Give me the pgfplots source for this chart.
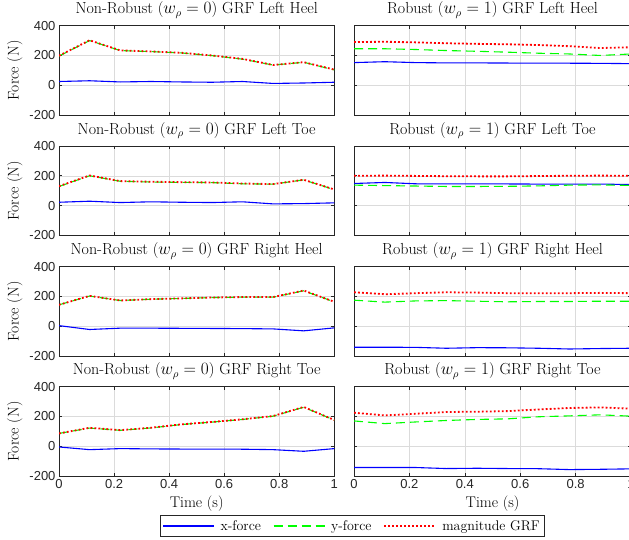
\documentclass[border=0pt]{standalone}
\usepackage{pgfplots}
\pgfplotsset{compat=1.18}
\usepackage{pgfplotstable}
\usepackage{fontspec}
\newfontfamily\hel{Liberation Sans}

\pgfplotstableread{
t x y m
0      25 196   198
0.1111 30 300   302
0.2222 22 233   234
0.3333 25 226   227
0.4444 22 217   218
0.5556 20 199   200
0.6667 25 175   177
0.7778 12 135.5 136
0.8889 15 154   155
1      20 103   105
}\nrLH
\pgfplotstableread{
t x y m
0      152 245 290
0.1111 158 245 292
0.2222 152 240 288
0.3333 150 233 282
0.4444 150 228 278
0.5556 149 222 275
0.6667 148 215 270
0.7778 148 210 262
0.8889 147 200 250
1      145 210 255
}\rLH
\pgfplotstableread{
t x y m
0      22 128   130
0.1111 29 200   202
0.2222 20 163   164
0.3333 25 158   160
0.4444 22 155.5 157
0.5556 20 154   155
0.6667 25 146   148
0.7778 11 143.6 144
0.8889 13 172.5 173
1      18 106.5 108
}\nrLT
\pgfplotstableread{
t x y m
0      148 137 200
0.1111 155 134 201
0.2222 146 131 199
0.3333 145 128 197
0.4444 145 128 196
0.5556 145 129 196
0.6667 144 132 198
0.7778 144 137 200
0.8889 144 139 201
1      141 135 200
}\rLT
\pgfplotstableread{
t x y m
0      4   144   144
0.1111 -22 203   204
0.2222 -13 172.5 173
0.3333 -13 181.5 182
0.4444 -14 186.5 187
0.5556 -15 192.4 193
0.6667 -16 195.3 196
0.7778 -18 195.2 196
0.8889 -31 238   240
1      -11 163.6 164
}\nrRH
\pgfplotstableread{
t x y m
0      -141 175 228
0.1111 -141 162 215
0.2222 -142 170 222
0.3333 -148 172 228
0.4444 -144 168 226
0.5556 -145 164 222
0.6667 -148 166 222
0.7778 -153 166 222
0.8889 -150 168 224
1      -148 168 222
}\rRH
\pgfplotstableread{
t x y m
0      -5  86    86
0.1111 -23 122   124
0.2222 -16 107   108
0.3333 -18 122.7 124
0.4444 -19 145.8 147
0.5556 -19 162   163
0.6667 -20 180   181
0.7778 -23 201.7 203
0.8889 -34 262   264
1      -16 175.3 176
}\nrRT
\pgfplotstableread{
t x y m
0      -143 170 225
0.1111 -143 152 207
0.2222 -143 163 218
0.3333 -150 173 230
0.4444 -148 180 232
0.5556 -150 184 236
0.6667 -151 198 247
0.7778 -157 204 257
0.8889 -155 211 261
1      -152 202 252
}\rRT

\definecolor{mgreen}{rgb}{0,1,0}
\definecolor{axgray}{rgb}{0.15,0.15,0.15}

\pgfplotsset{
  xf/.style={draw=blue, color=blue, line width=1.1pt, solid},
  yf/.style={draw=mgreen, color=mgreen, line width=1.1pt, dash pattern=on 9pt off 5pt},
  mg/.style={draw=red, color=red, line width=1.8pt, dash pattern=on 1.8pt off 2.2pt},
  myax/.style={
    scale only axis, height=89.3pt,
    xmin=0, xmax=1, ymin=-200, ymax=400,
    xtick={0,0.2,0.4,0.6,0.8,1}, ytick={-200,0,200,400},
    grid=major, major grid style={color=black!14, line width=0.5pt},
    axis line style={color=axgray, line width=0.7pt},
    tick style={color=axgray, line width=0.6pt},
    tick align=inside, major tick length=3pt,
    /pgf/number format/assume math mode=true,
    ticklabel style={font=\hel\fontsize{13}{15}\selectfont, text=axgray},
    title style={font=\fontsize{16}{19}\selectfont, yshift=-2.5pt},
    label style={font=\fontsize{15.5}{18}\selectfont},
    ylabel={Force (N)},
    legend image code/.code={\draw[##1] (0pt,0pt) -- (51pt,0pt); \path (55pt,0pt);},
  },
  lcol/.style={myax, width=275.3pt},
  rcol/.style={myax, width=277pt, yticklabels={}, ylabel={}},
}

\begin{document}
\begin{tikzpicture}
\path[use as bounding box] (0pt,0pt) rectangle (629pt,540pt);

% Row 1
\begin{axis}[lcol, at={(59pt,425pt)}, anchor=south west, xticklabels={},
  title={Non-Robust ($w_\rho = 0$) GRF Left Heel}]
\addplot[xf] table[x=t,y=x] {\nrLH};
\addplot[yf] table[x=t,y=y] {\nrLH};
\addplot[mg] table[x=t,y=m] {\nrLH};
\end{axis}
\begin{axis}[rcol, at={(354pt,425pt)}, anchor=south west, xticklabels={},
  title={Robust ($w_\rho = 1$) GRF Left Heel}]
\addplot[xf] table[x=t,y=x] {\rLH};
\addplot[yf] table[x=t,y=y] {\rLH};
\addplot[mg] table[x=t,y=m] {\rLH};
\end{axis}

% Row 2
\begin{axis}[lcol, at={(59pt,304.7pt)}, anchor=south west, xticklabels={},
  title={Non-Robust ($w_\rho = 0$) GRF Left Toe}]
\addplot[xf] table[x=t,y=x] {\nrLT};
\addplot[yf] table[x=t,y=y] {\nrLT};
\addplot[mg] table[x=t,y=m] {\nrLT};
\end{axis}
\begin{axis}[rcol, at={(354pt,304.7pt)}, anchor=south west, xticklabels={},
  title={Robust ($w_\rho = 1$) GRF Left Toe}]
\addplot[xf] table[x=t,y=x] {\rLT};
\addplot[yf] table[x=t,y=y] {\rLT};
\addplot[mg] table[x=t,y=m] {\rLT};
\end{axis}

% Row 3
\begin{axis}[lcol, at={(59pt,184pt)}, anchor=south west, xticklabels={},
  title={Non-Robust ($w_\rho = 0$) GRF Right Heel}]
\addplot[xf] table[x=t,y=x] {\nrRH};
\addplot[yf] table[x=t,y=y] {\nrRH};
\addplot[mg] table[x=t,y=m] {\nrRH};
\end{axis}
\begin{axis}[rcol, at={(354pt,184pt)}, anchor=south west, xticklabels={},
  title={Robust ($w_\rho = 1$) GRF Right Heel}]
\addplot[xf] table[x=t,y=x] {\rRH};
\addplot[yf] table[x=t,y=y] {\rRH};
\addplot[mg] table[x=t,y=m] {\rRH};
\end{axis}

% Row 4
\begin{axis}[lcol, at={(59pt,64pt)}, anchor=south west,
  title={Non-Robust ($w_\rho = 0$) GRF Right Toe}, xlabel={Time (s)},
  legend columns=3,
  legend style={at={(rel axis cs:1.065,-0.442)}, anchor=north,
    draw=axgray, line width=0.7pt, font=\fontsize{14}{16}\selectfont,
    inner xsep=2pt, inner ysep=2.5pt,
    /tikz/every even column/.append style={column sep=10pt}},
  ]
\addplot[xf] table[x=t,y=x] {\nrRT};
\addplot[yf] table[x=t,y=y] {\nrRT};
\addplot[mg] table[x=t,y=m] {\nrRT};
\legend{x-force, y-force, magnitude GRF}
\end{axis}
\begin{axis}[rcol, at={(354pt,64pt)}, anchor=south west,
  title={Robust ($w_\rho = 1$) GRF Right Toe}, xlabel={Time (s)}]
\addplot[xf] table[x=t,y=x] {\rRT};
\addplot[yf] table[x=t,y=y] {\rRT};
\addplot[mg] table[x=t,y=m] {\rRT};
\end{axis}
\end{tikzpicture}
\end{document}
